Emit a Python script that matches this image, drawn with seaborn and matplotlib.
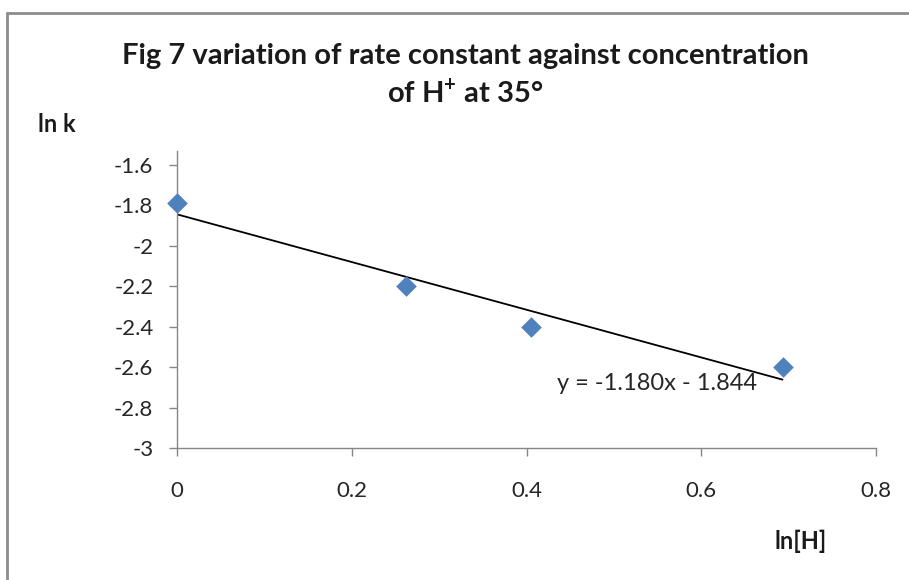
import numpy as np
import pandas as pd
import matplotlib
matplotlib.use("Agg")
import matplotlib.pyplot as plt
from matplotlib.lines import Line2D
import seaborn as sns

# Data
ln_H = [0.0, 0.262, 0.405, 0.693]
ln_k = [-1.79, -2.20, -2.40, -2.60]
slope = -1.180
intercept = -1.844
x_ticks = [0, 0.2, 0.4, 0.6, 0.8]
y_ticks = [-3, -2.8, -2.6, -2.4, -2.2, -2, -1.8, -1.6]
title = "Fig 7 variation of rate constant against concentration\nof H$^{+}$ at 35°"
eq_label = "y = -1.180x - 1.844"

sns.set_theme(style="white")
plt.rcParams["font.family"] = ["Lato", "DejaVu Sans"]
plt.rcParams["mathtext.fontset"] = "custom"
plt.rcParams["mathtext.rm"] = "Lato:bold"
plt.rcParams["mathtext.bf"] = "Lato:bold"

df = pd.DataFrame({"ln[H]": ln_H, "ln k": ln_k})
fit_x = np.array([min(ln_H), max(ln_H)])
fit_df = pd.DataFrame({"x": fit_x, "y": slope * fit_x + intercept})

fig = plt.figure(figsize=(9.09, 5.80), dpi=100)
ax = fig.add_axes([177/909, 1 - 448/580, (876 - 177)/909, (448 - 151)/580])

sns.lineplot(data=fit_df, x="x", y="y", ax=ax, color="black", lw=1.3, zorder=2)
sns.scatterplot(data=df, x="ln[H]", y="ln k", ax=ax, marker="D", s=110,
                color="#4F81BD", edgecolor="#4F81BD", linewidth=0, zorder=3,
                clip_on=False)

ax.set_xlim(0, 0.8)
ax.set_ylim(-3, -1.6 + (165 - 151) / 202)
ax.set_xticks(x_ticks)
ax.set_xticklabels([f"{v:g}" for v in x_ticks])
ax.set_yticks(y_ticks)
ax.set_yticklabels([f"{v:g}" for v in y_ticks])
ax.set_xlabel("")
ax.set_ylabel("")

for s in ["top", "right"]:
    ax.spines[s].set_visible(False)
for s in ["left", "bottom"]:
    ax.spines[s].set_color("#868686")
    ax.spines[s].set_linewidth(1.0)
ax.tick_params(axis="both", which="major", direction="out", length=6, width=1.0,
               color="#868686", labelsize=16, labelcolor="#262626")
ax.tick_params(axis="x", pad=18, bottom=True)
ax.tick_params(axis="y", pad=11, left=True)

ax.text(0.435, -2.679, eq_label, fontsize=17, color="#262626", ha="left", va="center")

fig.text(465/909, 1 - 75/580, title, ha="center", va="center", fontsize=21,
         fontweight="bold", color="#1a1a1a", linespacing=1.35)
fig.text(38/909, 1 - 124/580, "ln k", ha="left", va="center", fontsize=17,
         fontweight="bold", color="#1a1a1a")
fig.text(801/909, 1 - 541/580, "ln[H]", ha="center", va="center", fontsize=17,
         fontweight="bold", color="#1a1a1a")

# outer chart border (top and left visible)
fig.add_artist(Line2D([7/909, 1], [1 - 13/580, 1 - 13/580], transform=fig.transFigure,
                      color="#8c8c8c", lw=2))
fig.add_artist(Line2D([7/909, 7/909], [0, 1 - 13/580], transform=fig.transFigure,
                      color="#8c8c8c", lw=2))

fig.savefig("out.png", dpi=100, facecolor="white")
